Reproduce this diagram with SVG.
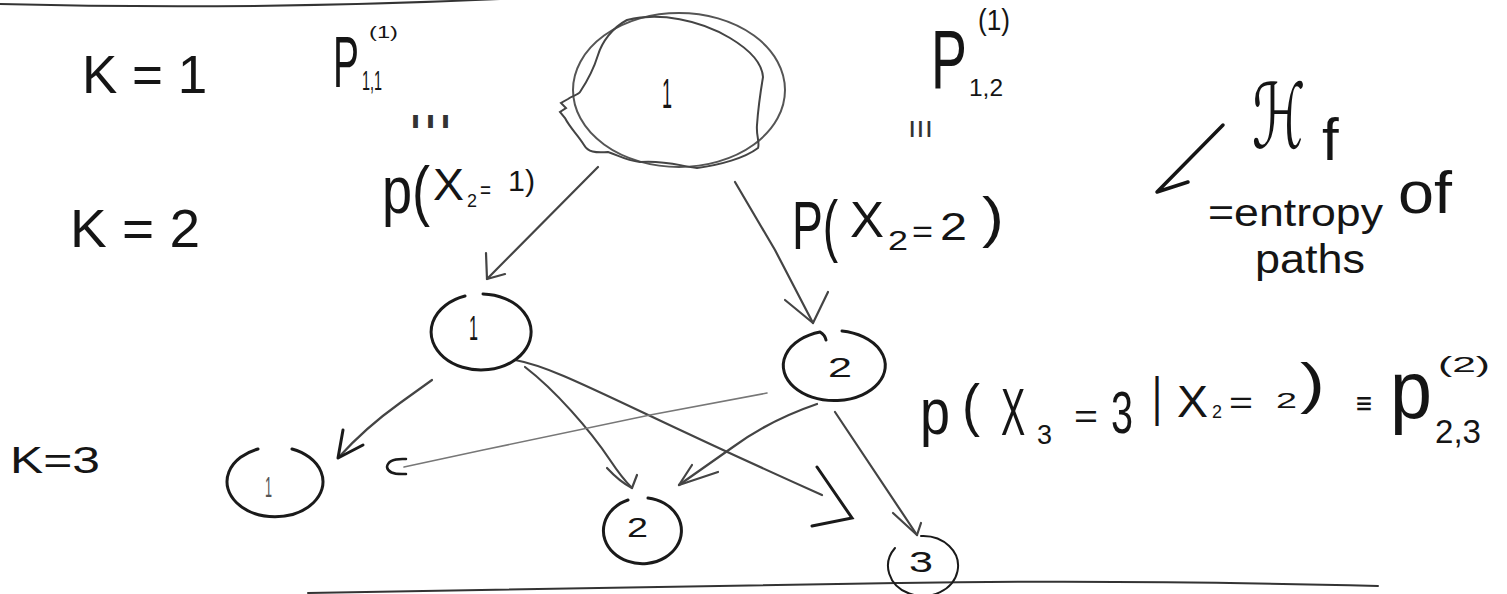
<svg xmlns="http://www.w3.org/2000/svg" width="1507" height="594" viewBox="0 0 1507 594">
<style>
.t{font-family:"Liberation Sans","DejaVu Sans",sans-serif;fill:#151515}
.m{font-family:"DejaVu Sans","Liberation Sans",sans-serif;fill:#151515}
.c{fill:none;stroke:#1a1a1a;stroke-width:3;stroke-linecap:round}
.e{fill:none;stroke:#444;stroke-width:2.2;stroke-linecap:round;stroke-linejoin:round}
.thin{fill:none;stroke:#777;stroke-width:1.6;stroke-linecap:round}
.rule{fill:none;stroke:#333;stroke-width:2;stroke-linecap:round}
</style>
<rect width="1507" height="594" fill="#ffffff"/>
<path class="rule" d="M0,4 C150,8 300,8 500,-1"/>
<path class="rule" d="M308,593 C500,591 700,586 900,583 S1250,583 1378,586"/>

<g id="labels">
<text class="t" x="82" y="93" font-size="53">K = 1</text>
<text class="t" x="70" y="247" font-size="53" textLength="130" lengthAdjust="spacingAndGlyphs">K = 2</text>
<text class="t" x="10" y="473" font-size="36" textLength="90" lengthAdjust="spacingAndGlyphs">K=3</text>
</g>

<g id="label-p11">
<text class="t" transform="translate(333,87) scale(0.54,1)" font-size="72">P</text>
<text class="t" x="369" y="38" font-size="16" textLength="29" lengthAdjust="spacingAndGlyphs">(1)</text>
<text class="t" x="362" y="90" font-size="28" textLength="20" lengthAdjust="spacingAndGlyphs">1,1</text>
<text class="t" x="408" y="128" font-size="24" textLength="45" lengthAdjust="spacingAndGlyphs" style="fill:#333">ııı</text>
</g>

<g id="label-p12">
<text class="t" transform="translate(931,88) scale(0.64,1)" font-size="84">P</text>
<text class="t" x="978" y="30" font-size="30" textLength="32" lengthAdjust="spacingAndGlyphs">(1)</text>
<text class="t" x="969" y="96" font-size="24" textLength="34" lengthAdjust="spacingAndGlyphs">1,2</text>
<text class="t" x="908" y="137" font-size="30" textLength="25" lengthAdjust="spacingAndGlyphs" style="fill:#333">ııı</text>
</g>

<g id="label-px2-1">
<text class="t" transform="translate(382,213) scale(0.82,1)" font-size="66">p(</text>
<text class="t" x="433" y="200" font-size="44" textLength="31" lengthAdjust="spacingAndGlyphs">X</text>
<text class="t" x="467" y="207" font-size="18" textLength="10" lengthAdjust="spacingAndGlyphs">2</text>
<text class="t" x="480" y="198" font-size="24" textLength="11" lengthAdjust="spacingAndGlyphs">=</text>
<text class="t" x="508" y="191" font-size="30" textLength="27" lengthAdjust="spacingAndGlyphs">1)</text>
</g>

<g id="label-px2-2">
<text class="t" transform="translate(792,249) scale(0.68,1)" font-size="68">P(</text>
<text class="t" x="850" y="237" font-size="50" textLength="34" lengthAdjust="spacingAndGlyphs">X</text>
<text class="t" x="888" y="250" font-size="28" textLength="20" lengthAdjust="spacingAndGlyphs">2</text>
<text class="t" x="912" y="242" font-size="32" textLength="21" lengthAdjust="spacingAndGlyphs">=</text>
<text class="t" x="940" y="240" font-size="38" textLength="27" lengthAdjust="spacingAndGlyphs">2</text>
<text class="t" x="982" y="236" font-size="56" textLength="22" lengthAdjust="spacingAndGlyphs">)</text>
</g>

<g id="label-px3">
<text class="t" x="920" y="434" font-size="64" textLength="30" lengthAdjust="spacingAndGlyphs">p</text>
<text class="t" x="962" y="425" font-size="58" textLength="18" lengthAdjust="spacingAndGlyphs">(</text>
<text class="t" transform="translate(1001,435) scale(0.55,1)" font-size="66">X</text>
<text class="t" x="1037" y="444" font-size="28" textLength="15" lengthAdjust="spacingAndGlyphs">3</text>
<text class="t" x="1074" y="428" font-size="34" textLength="24" lengthAdjust="spacingAndGlyphs">=</text>
<text class="t" x="1111" y="433" font-size="60" textLength="22" lengthAdjust="spacingAndGlyphs">3</text>
<text class="t" x="1152" y="415" font-size="54" textLength="10" lengthAdjust="spacingAndGlyphs">|</text>
<text class="t" x="1177" y="417" font-size="44" textLength="31" lengthAdjust="spacingAndGlyphs">X</text>
<text class="t" x="1212" y="418" font-size="18" textLength="10" lengthAdjust="spacingAndGlyphs">2</text>
<text class="t" x="1229" y="413" font-size="32" textLength="24" lengthAdjust="spacingAndGlyphs">=</text>
<text class="t" x="1276" y="408" font-size="22" textLength="21" lengthAdjust="spacingAndGlyphs">2</text>
<text class="t" x="1300" y="402" font-size="56" textLength="25" lengthAdjust="spacingAndGlyphs">)</text>
<text class="m" x="1355" y="413" font-size="30" textLength="18" lengthAdjust="spacingAndGlyphs">≡</text>
<text class="t" x="1390" y="418" font-size="82" textLength="42" lengthAdjust="spacingAndGlyphs">p</text>
<text class="t" x="1438" y="372" font-size="22" textLength="52" lengthAdjust="spacingAndGlyphs">(2)</text>
<text class="t" x="1435" y="443" font-size="34" textLength="46" lengthAdjust="spacingAndGlyphs">2,3</text>
</g>

<g id="label-hf">
<path d="M1223,125 L1157,192 L1188,182" fill="none" stroke="#151515" stroke-width="3.5" stroke-linecap="round" stroke-linejoin="round"/>
<text class="m" transform="translate(1252,148) scale(0.6,1)" font-size="90">ℋ</text>
<text class="t" x="1322" y="160" font-size="60">f</text>
<text class="t" x="1208" y="226" font-size="38" textLength="175" lengthAdjust="spacingAndGlyphs">=entropy</text>
<text class="t" x="1398" y="213" font-size="60" textLength="54" lengthAdjust="spacingAndGlyphs">of</text>
<text class="t" x="1255" y="273" font-size="40" textLength="110" lengthAdjust="spacingAndGlyphs">paths</text>
</g>

<g id="connectors">
<path class="e" d="M598,167 L487,279"/>
<path class="e" d="M486,253 L487,279 L505,274"/>
<path class="e" d="M735,182 L775,250 L813,323"/>
<path class="e" d="M785,300 L813,323 L828,292"/>
<path class="e" d="M432,380 L400,403 Q365,428 338,458"/>
<path class="e" d="M343,430 L338,458 L363,445" style="stroke:#1a1a1a;stroke-width:3"/>
<path class="e" d="M525,367 C555,390 590,430 610,460 Q622,478 632,488"/>
<path class="e" d="M607,468 Q620,482 632,488 L637,475"/>
<path class="e" d="M515,360 C560,368 620,405 822,495"/>
<path class="c" d="M817,467 L852,518 L812,526"/>
<path class="thin" d="M767,393 L650,415 L483,450 L404,467"/>
<path class="c" d="M406,459 Q388,458 387,467 Q388,475 406,474" style="stroke-width:2.5"/>
<path class="e" d="M817,404 Q770,420 733,447 L679,485"/>
<path class="e" d="M692,465 L679,485 L718,472"/>
<path class="e" d="M835,412 L917,535"/>
<path class="e" d="M893,513 L917,535 L921,523"/>
</g>

<g id="node-root">
<ellipse cx="679" cy="90" rx="106" ry="77" fill="none" stroke="#555" stroke-width="2"/>
<path d="M627,20 C660,12 700,20 730,38 C750,50 762,62 763,77 C760,95 758,110 757,125 C756,135 760,143 758,148 C745,158 720,165 697,168 C680,166 665,160 640,162 C625,160 618,155 608,152 C595,153 588,152 584,145 C578,135 570,128 565,118 L560,112 L566,108 L561,103 L568,99 C572,96 578,95 580,92 C588,80 594,68 598,55 C602,42 612,28 627,20 Z" fill="none" stroke="#444" stroke-width="2"/>
<text class="t" x="662" y="108" font-size="42" textLength="10" lengthAdjust="spacingAndGlyphs">1</text>
</g>

<g id="node-k2-1">
<path class="c" d="M483,294 A50,38 0 1 1 465,296"/>
<text class="t" x="469" y="340" font-size="35" textLength="9" lengthAdjust="spacingAndGlyphs">1</text>
</g>

<g id="node-k2-2">
<path class="c" d="M842,331 A51,35 0 1 1 820,332 Q825,335 826,340"/>
<text class="t" x="828" y="377" font-size="28" textLength="24" lengthAdjust="spacingAndGlyphs">2</text>
</g>

<g id="node-k3-1">
<path class="c" d="M292,449 A48,35 0 1 1 258,449"/>
<text class="t" x="265" y="497" font-size="30" textLength="7" lengthAdjust="spacingAndGlyphs" style="fill:#555">1</text>
</g>

<g id="node-k3-2">
<path class="c" d="M648,498 A39,33 0 1 1 628,500"/>
<text class="t" x="627" y="537" font-size="28" textLength="21" lengthAdjust="spacingAndGlyphs">2</text>
</g>

<g id="node-k3-3">
<path class="c" d="M921,536 A35,30 0 1 1 895,548" style="stroke-width:2"/>
<text class="t" x="909" y="572" font-size="30" textLength="24" lengthAdjust="spacingAndGlyphs">3</text>
</g>
</svg>
